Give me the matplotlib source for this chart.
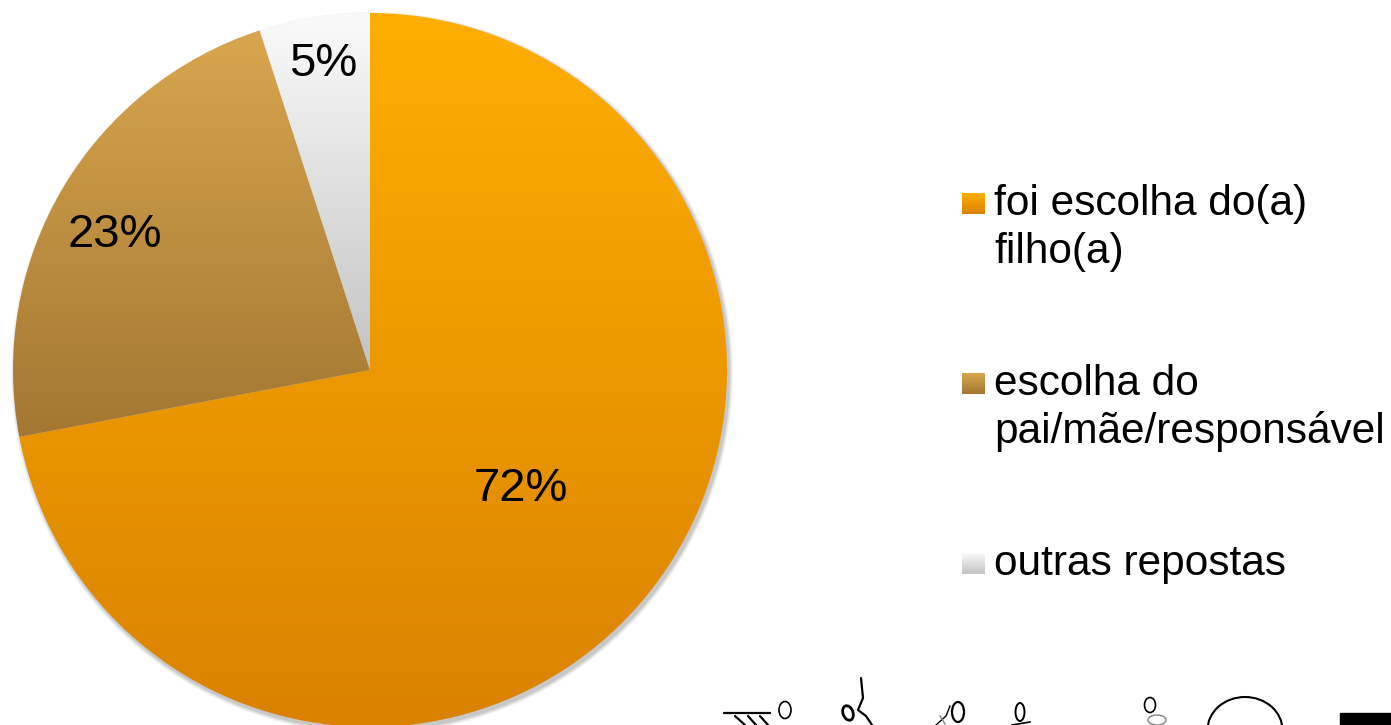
import numpy as np
import matplotlib
matplotlib.use('Agg')
import matplotlib.pyplot as plt
from matplotlib.patches import Rectangle, Ellipse, Circle, Arc
from matplotlib.colors import LinearSegmentedColormap

plt.rcParams['font.family'] = ['Liberation Sans', 'DejaVu Sans']

labels = ['foi escolha do(a)\nfilho(a)', 'escolha do\npai/mãe/responsável', 'outras repostas']
values = [72, 23, 5]
pct_text = ['72%', '23%', '5%']
# gradient colours (top, bottom) per slice
grad_top = ['#FEAF00', '#D8A64E', '#FAFAFA']
grad_bot = ['#DA8200', '#A37733', '#C3C3C3']
# label placement: fraction of radius, angle offset from slice middle (deg)
label_dist = [0.53, 0.816, 0.881]
label_dang = [2.7, 1.9, -0.5]

W, H = 1391, 725
fig = plt.figure(figsize=(W / 100, H / 100), dpi=100)
ax = fig.add_axes([0, 0, 1, 1])

cx, cy, R = 370, H - 370, 357

# soft shadow
for k, a in enumerate([0.04, 0.05, 0.06, 0.08]):
    ax.add_patch(Circle((cx + 2, cy - 3), R + 4 - k, color='black', alpha=a, lw=0, zorder=0))

wedges, _ = ax.pie(values, center=(cx, cy), radius=R, startangle=90,
                   counterclock=False, normalize=True,
                   wedgeprops=dict(linewidth=0, edgecolor='none'))

for w, t, b in zip(wedges, grad_top, grad_bot):
    w.set_facecolor('none')
    ext = w.get_path().get_extents()
    cmap = LinearSegmentedColormap.from_list('g', [b, t])
    grad = np.linspace(0, 1, 256).reshape(-1, 1)
    im = ax.imshow(grad, cmap=cmap, origin='lower', aspect='auto',
                   extent=[ext.x0, ext.x1, ext.y0, ext.y1], zorder=2)
    im.set_clip_path(w)

# percentage labels
pct_size = 34
cap = 0.716 * pct_size * 100 / 72
for w, txt, d, da in zip(wedges, pct_text, label_dist, label_dang):
    mid = np.deg2rad((w.theta1 + w.theta2) / 2 + da)
    ax.text(cx + d * R * np.cos(mid), cy + d * R * np.sin(mid) - cap / 2, txt,
            fontsize=pct_size, ha='center', va='baseline', zorder=5)

# legend
leg_rows = [215, 395, 575]  # baselines of first line (px from top)
line_gap = 48
for lab, t, b, yb in zip(labels, grad_top, grad_bot, leg_rows):
    sq_top = yb - 22
    cmap = LinearSegmentedColormap.from_list('g', [b, t])
    grad = np.linspace(0, 1, 64).reshape(-1, 1)
    ax.imshow(grad, cmap=cmap, origin='lower', aspect='auto',
              extent=[962, 985, H - sq_top - 21, H - sq_top], zorder=3)
    for i, line in enumerate(lab.split('\n')):
        ax.text(994, H - yb - i * line_gap, line, fontsize=30.5,
                ha='left', va='baseline', zorder=5)

# sketchy doodles at bottom right
lk = dict(color='black', lw=1.6, zorder=6, solid_capstyle='round')
ax.plot([724, 770], [H - 713, H - 713], **lk)
ax.plot([735, 745], [H - 716, H - 725], **lk)
ax.plot([748, 756], [H - 716, H - 725], **lk)
ax.plot([760, 768], [H - 716, H - 725], **lk)
ax.add_patch(Ellipse((785, H - 710), 12, 17, fill=False, lw=1.2, zorder=6))
ax.plot([861, 863, 858, 866, 872], [H - 678, H - 698, H - 710, H - 716, H - 725], **lk)
ax.add_patch(Ellipse((848, H - 713), 10, 15, angle=20, fill=False, lw=2, zorder=6))
ax.plot([936, 946, 950], [H - 725, H - 716, H - 706], color='black', lw=1, zorder=6)
ax.add_patch(Ellipse((958, H - 712), 12, 20, fill=False, lw=1.6, zorder=6))
ax.plot([940, 945], [H - 716, H - 724], color='gray', lw=1, zorder=6)
ax.add_patch(Ellipse((1020, H - 712), 9, 18, fill=False, lw=1.4, zorder=6))
ax.plot([1012, 1030], [H - 725, H - 722], color='black', lw=1.2, zorder=6)
ax.add_patch(Ellipse((1150, H - 705), 11, 15, fill=False, lw=1.2, zorder=6))
ax.add_patch(Ellipse((1157, H - 720), 18, 10, fill=False, lw=1, zorder=6, ec='gray'))
ax.add_patch(Arc((1245, H - 730), 75, 66, theta1=0, theta2=180, lw=1.5, zorder=6))
ax.add_patch(Rectangle((1340, 0), 60, 12, color='black', zorder=6))

ax.set_xlim(0, W)
ax.set_ylim(0, H)
ax.set_aspect('auto')
ax.axis('off')

fig.savefig('out.png', dpi=100, facecolor='white')
